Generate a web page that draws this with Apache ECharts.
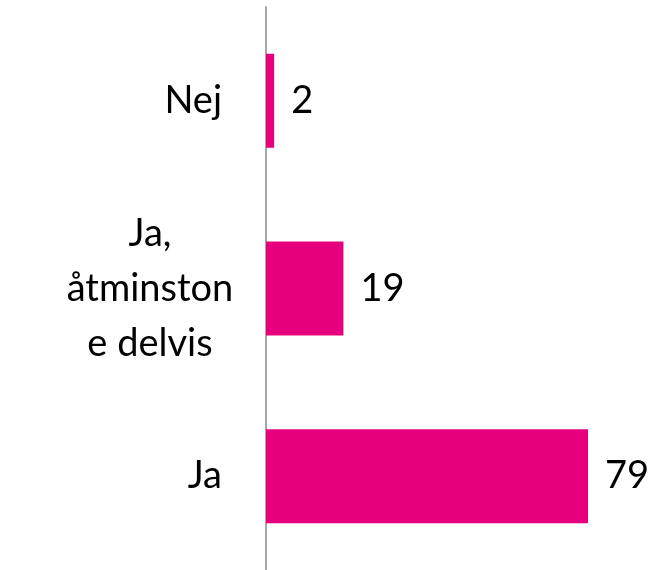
<!DOCTYPE html>
<html>
<head>
<meta charset="utf-8">
<script src="https://cdn.jsdelivr.net/npm/echarts@6/dist/echarts.min.js"></script>
<style>
  html, body { margin: 0; padding: 0; background: #fff; }
  #main { width: 657px; height: 570px; }
</style>
</head>
<body>
<div id="main"></div>
<script>
// svarsalternativ, nerifrån och upp
const categories = ['Ja', 'Ja,\nåtminston\ne delvis', 'Nej'];
const values = [79, 19, 2];

const BAR_COLOR = '#e6007e';
const FONT = 'Lato, "Open Sans", sans-serif';

let chart = echarts.init(document.getElementById('main'));

let option = {
    animation: false,
    grid: { left: 266, right: 69, top: 7, bottom: -3 },
    xAxis: {
        type: 'value',
        min: 0,
        max: 79,
        show: false
    },
    yAxis: {
        type: 'category',
        data: categories,
        axisLine: { show: true, lineStyle: { color: '#a6a6a6', width: 2 } },
        axisTick: { show: false },
        axisLabel: {
            margin: 44,
            color: '#000',
            fontFamily: FONT,
            fontSize: 38,
            align: 'right',
            // flerradiga etiketter centreras i ett block
            formatter: v => v.indexOf('\n') < 0 ? v :
                v.split('\n').map(s => '{c|' + s + '}').join('\n'),
            rich: {
                c: {
                    width: 144,
                    align: 'center',
                    color: '#000',
                    fontFamily: FONT,
                    fontSize: 38,
                    lineHeight: 55
                }
            }
        }
    },
    series: [{
        type: 'bar',
        data: values,
        barWidth: 94,
        itemStyle: { color: BAR_COLOR },
        label: {
            show: true,
            position: 'right',
            distance: 17,
            color: '#000',
            fontFamily: FONT,
            fontSize: 38
        }
    }]
};

chart.setOption(option);
</script>
</body>
</html>
